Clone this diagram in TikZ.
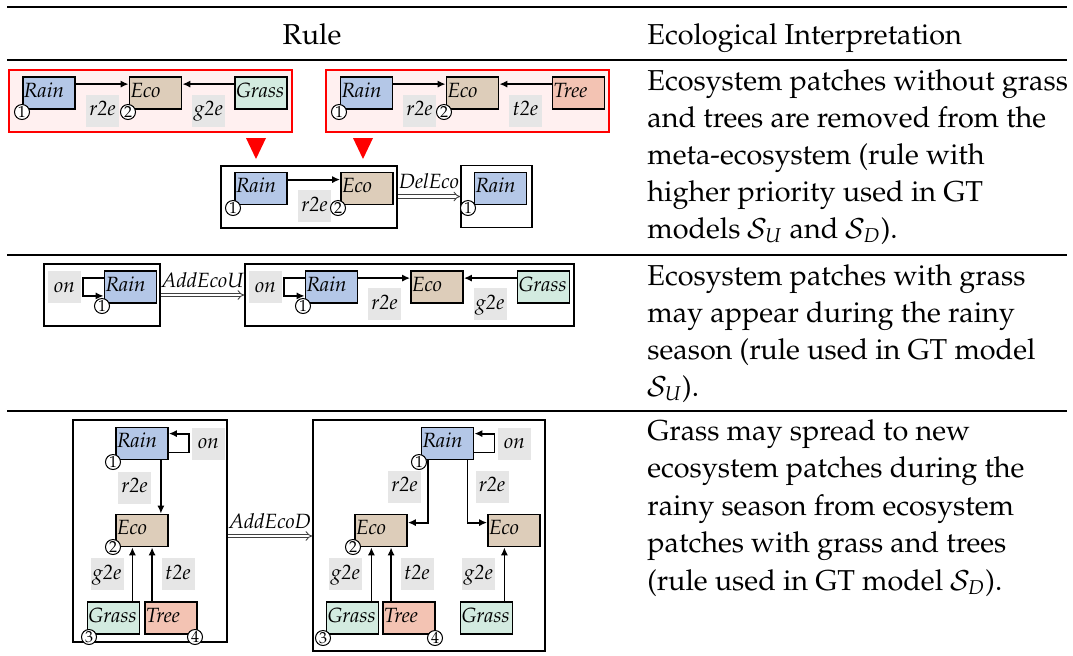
\documentclass[tikz,border=0pt]{standalone}
\usepackage[T1]{fontenc}
\usepackage{mathpazo}
\DeclareMathAlphabet{\mathcal}{OMS}{cmsy}{m}{n}
\usetikzlibrary{arrows.meta}
\definecolor{rainblue}{HTML}{B4C7E7}
\definecolor{ecotan}{HTML}{DDCDBA}
\definecolor{grassgreen}{HTML}{D3EBE0}
\definecolor{treesalmon}{HTML}{F3C3B3}
\definecolor{lblgray}{HTML}{E6E6E6}
\definecolor{redfill}{HTML}{FFF0F0}
\newcommand\dgfont{\fontsize{10.3}{12}\selectfont\itshape}
\newcommand\mainfont{\fontsize{14.4}{17}\selectfont}
\tikzset{
  ent/.style={draw=black, line width=0.9pt, minimum width=26pt, minimum height=16pt,
    text width=25pt, align=left, inner xsep=0.5pt, inner ysep=2pt,
    text height=8pt, text depth=4pt, font=\dgfont},
  rainn/.style={ent, fill=rainblue},
  econ/.style={ent, fill=ecotan},
  grassn/.style={ent, fill=grassgreen},
  treen/.style={ent, fill=treesalmon},
  lbl/.style={fill=lblgray, minimum width=16.5pt, minimum height=16pt, inner sep=0pt,
    text height=6.5pt, text depth=1.5pt, font=\dgfont},
  num/.style={circle, draw=black, fill=white, line width=0.5pt, inner sep=0pt,
    minimum size=7.5pt, font=\fontsize{8}{8}\selectfont},
  arr/.style={-{Latex[length=4pt,width=3.6pt]}, line width=0.9pt},
  dbl/.style={draw=black!75, double=white, double distance=1.2pt, line width=0.45pt, -{Implies}},
  redbox/.style={draw=red, fill=redfill, line width=0.8pt},
  outerbox/.style={draw=black, line width=0.9pt, inner sep=0pt},
  rulelbl/.style={anchor=base, font=\dgfont, yshift=4pt},
  txt/.style={anchor=base west, inner sep=0pt, font=\mainfont},
  redtri/.style={fill=red}
}
\begin{document}
\begin{tikzpicture}[x=0.5pt, y=-0.5pt]
\useasboundingbox (0,0) rectangle (1073,655);
% table rules
\draw[line width=1.1pt] (7,7) -- (1067,7);
\draw[line width=0.7pt] (7,60) -- (1067,60);
\draw[line width=0.7pt] (7,255) -- (1067,255);
\draw[line width=0.7pt] (7,411) -- (1067,411);
% header
\node[anchor=base, inner sep=0pt, font=\mainfont] (hrule) at (312,44) {Rule};
\node[txt] (hinterp) at (647,44) {Ecological Interpretation};

% ===== Row 1 =====
\node[redbox, minimum width=141.5pt, minimum height=31pt] (nac1) at (150.5,101) {};
\node[redbox, minimum width=141.5pt, minimum height=31pt] (nac2) at (467.5,101) {};
\node[rainn] (a1rain) at (49,93) {Rain};
\node[econ] (a1eco) at (155.5,93) {Eco};
\node[grassn] (a1grass) at (261,93) {Grass};
\node[lbl] (a1r2e) at (102.5,110.5) {r2e};
\node[lbl] (a1g2e) at (208.5,110.5) {g2e};
\draw[arr] ([yshift=-4pt]a1rain.north east) -- ([yshift=-4pt]a1eco.north west);
\draw[arr] ([yshift=-4pt]a1grass.north west) -- ([yshift=-4pt]a1eco.north east);
\node[num] (a1n1) at (22,112) {1};
\node[num] (a1n2) at (128,112) {2};

\node[rainn] (a2rain) at (366.5,93) {Rain};
\node[econ] (a2eco) at (472.5,93) {Eco};
\node[treen] (a2tree) at (578.5,93) {Tree};
\node[lbl] (a2r2e) at (419.5,110.5) {r2e};
\node[lbl] (a2t2e) at (525.5,110.5) {t2e};
\draw[arr] ([yshift=-4pt]a2rain.north east) -- ([yshift=-4pt]a2eco.north west);
\draw[arr] ([yshift=-4pt]a2tree.north west) -- ([yshift=-4pt]a2eco.north east);
\node[num] (a2n1) at (339,112) {1};
\node[num] (a2n2) at (444,112) {2};

\fill[redtri] (246,138) -- (266,138) -- (256,159) -- cycle;
\fill[redtri] (353,138) -- (373,138) -- (363,159) -- cycle;

\node[outerbox, minimum width=88pt, minimum height=31pt] (b1l) at (309,197) {};
\node[outerbox, minimum width=35.5pt, minimum height=31pt] (b1r) at (496.5,196.5) {};
\node[rainn] (b1rain) at (261,188.5) {Rain};
\node[econ] (b1eco) at (367,188.5) {Eco};
\node[lbl] (b1r2e) at (314.5,206) {r2e};
\draw[arr] ([yshift=-4pt]b1rain.north east) -- ([yshift=-4pt]b1eco.north west);
\node[num] (b1n1) at (233,208) {1};
\node[num] (b1n2) at (338,208) {2};
\node[rainn] (b1rrain) at (500.5,188.5) {Rain};
\node[num] (b1rn1) at (468,208) {1};
\draw[dbl] (b1l.east |- b1r.west) -- node[rulelbl] {DelEco} (b1r.west);

% ===== Row 2 =====
\node[outerbox, minimum width=58pt, minimum height=31pt] (c2l) at (102,295) {};
\node[outerbox, minimum width=164.5pt, minimum height=31pt] (c2r) at (409.5,295) {};
\node[lbl] (c2lon) at (64.5,287) {on};
\node[rainn] (c2lrain) at (130.5,287) {Rain};
\draw[arr] ([yshift=-4pt]c2lrain.north west) -- ++(-21,0) |- ([yshift=4pt]c2lrain.south west);
\node[num] (c2ln1) at (102,306) {1};

\node[lbl] (c2ron) at (265.5,287) {on};
\node[rainn] (c2rrain) at (331.5,287) {Rain};
\node[econ] (c2reco) at (437,287) {Eco};
\node[grassn] (c2rgrass) at (543.5,287) {Grass};
\node[lbl] (c2rr2e) at (384.5,304) {r2e};
\node[lbl] (c2rg2e) at (490,304) {g2e};
\draw[arr] ([yshift=-4pt]c2rrain.north west) -- ++(-21,0) |- ([yshift=4pt]c2rrain.south west);
\draw[arr] ([yshift=-4pt]c2rrain.north east) -- ([yshift=-4pt]c2reco.north west);
\draw[arr] ([yshift=-4pt]c2rgrass.north west) -- ([yshift=-4pt]c2reco.north east);
\node[num] (c2rn1) at (303,306) {1};
\draw[dbl] (c2l.east) -- node[rulelbl] {AddEcoU} (c2r.west);

% ===== Row 3 =====
\node[outerbox, minimum width=77pt, minimum height=111pt] (d3l) at (150,531) {};
\node[outerbox, minimum width=116pt, minimum height=115.5pt] (d3r) at (429,535.5) {};
\coordinate (d3y) at (270,536);

\node[rainn] (dlrain) at (142,443.5) {Rain};
\node[lbl] (dlon) at (208.5,443.5) {on};
\node[econ] (dleco) at (142,530.5) {Eco};
\node[lbl] (dlr2e) at (134.5,487.5) {r2e};
\node[grassn] (dlgrass) at (113.5,618) {Grass};
\node[treen] (dltree) at (171,618) {Tree};
\node[lbl] (dlg2e) at (107,574) {g2e};
\node[lbl] (dlt2e) at (178,574) {t2e};
\draw[arr] ([yshift=4pt]dlrain.south east) -- ++(20,0) |- ([yshift=-3.5pt]dlrain.north east);
\draw[arr] ([xshift=-4pt]dlrain.south east) -- ([xshift=-4pt]dleco.north east);
\draw[arr] ([xshift=-4pt]dlgrass.north east) -- ([xshift=-4pt]dlgrass.north east |- dleco.south);
\draw[arr] ([xshift=4pt]dltree.north west) -- ([xshift=4pt]dltree.north west |- dleco.south);
\node[num] (dln1) at (113,462) {1};
\node[num] (dln2) at (113,547) {2};
\node[num] (dln3) at (89,637) {3};
\node[num] (dln4) at (195,637) {4};

\node[rainn] (drrain) at (447.5,443.5) {Rain};
\node[lbl] (dron) at (514.5,443.5) {on};
\node[econ] (drecol) at (381,530.5) {Eco};
\node[econ] (drecor) at (514,530.5) {Eco};
\node[lbl] (drr2el) at (404.5,486.5) {r2e};
\node[lbl] (drr2er) at (492,486.5) {r2e};
\node[grassn] (drgrassl) at (352.5,618) {Grass};
\node[treen] (drtree) at (409,618) {Tree};
\node[grassn] (drgrassr) at (486.5,618) {Grass};
\node[lbl] (drg2el) at (345.5,574) {g2e};
\node[lbl] (drt2e) at (417,574) {t2e};
\node[lbl] (drg2er) at (478.5,574) {g2e};
\draw[arr] ([yshift=4pt]drrain.south east) -- ++(20,0) |- ([yshift=-3.5pt]drrain.north east);
\draw[arr] ([xshift=3.5pt]drrain.south west) |- ([yshift=-4.5pt]drecol.north east);
\draw[arr] ([xshift=-3.5pt]drrain.south east) |- ([yshift=-4.5pt]drecor.north west);
\draw[arr] ([xshift=-4pt]drgrassl.north east) -- ([xshift=-4pt]drgrassl.north east |- drecol.south);
\draw[arr] ([xshift=4.5pt]drtree.north west) -- ([xshift=4.5pt]drtree.north west |- drecol.south);
\draw[arr] ([xshift=-4.5pt]drgrassr.north east) -- ([xshift=-4.5pt]drgrassr.north east |- drecor.south);
\node[num] (drn1) at (419,462) {1};
\node[num] (drn2) at (353,547) {2};
\node[num] (drn3) at (323,638) {3};
\node[num] (drn4) at (435,638) {4};
\draw[dbl] (d3l.east |- d3y) -- node[rulelbl] {AddEcoD} (d3r.west |- d3y);

% ===== Interpretation text =====
\node[txt] (t1a) at (647,90) {Ecosystem patches without grass};
\node[txt] (t1b) at (647,127) {and trees are removed from the};
\node[txt] (t1c) at (647,164) {meta-ecosystem (rule with};
\node[txt] (t1d) at (647,201) {higher priority used in GT};
\node[txt] (t1e) at (647,238) {models $\mathcal{S}_U$ and $\mathcal{S}_D$).};
\node[txt] (t2a) at (647,285) {Ecosystem patches with grass};
\node[txt] (t2b) at (647,322) {may appear during the rainy};
\node[txt] (t2c) at (647,359) {season (rule used in GT model};
\node[txt] (t2d) at (647,396) {$\mathcal{S}_U$).};
\node[txt] (t3a) at (647,440) {Grass may spread to new};
\node[txt] (t3b) at (647,477.5) {ecosystem patches during the};
\node[txt] (t3c) at (647,515) {rainy season from ecosystem};
\node[txt] (t3d) at (647,552.5) {patches with grass and trees};
\node[txt] (t3e) at (647,590) {(rule used in GT model $\mathcal{S}_D$).};
\end{tikzpicture}
\end{document}
